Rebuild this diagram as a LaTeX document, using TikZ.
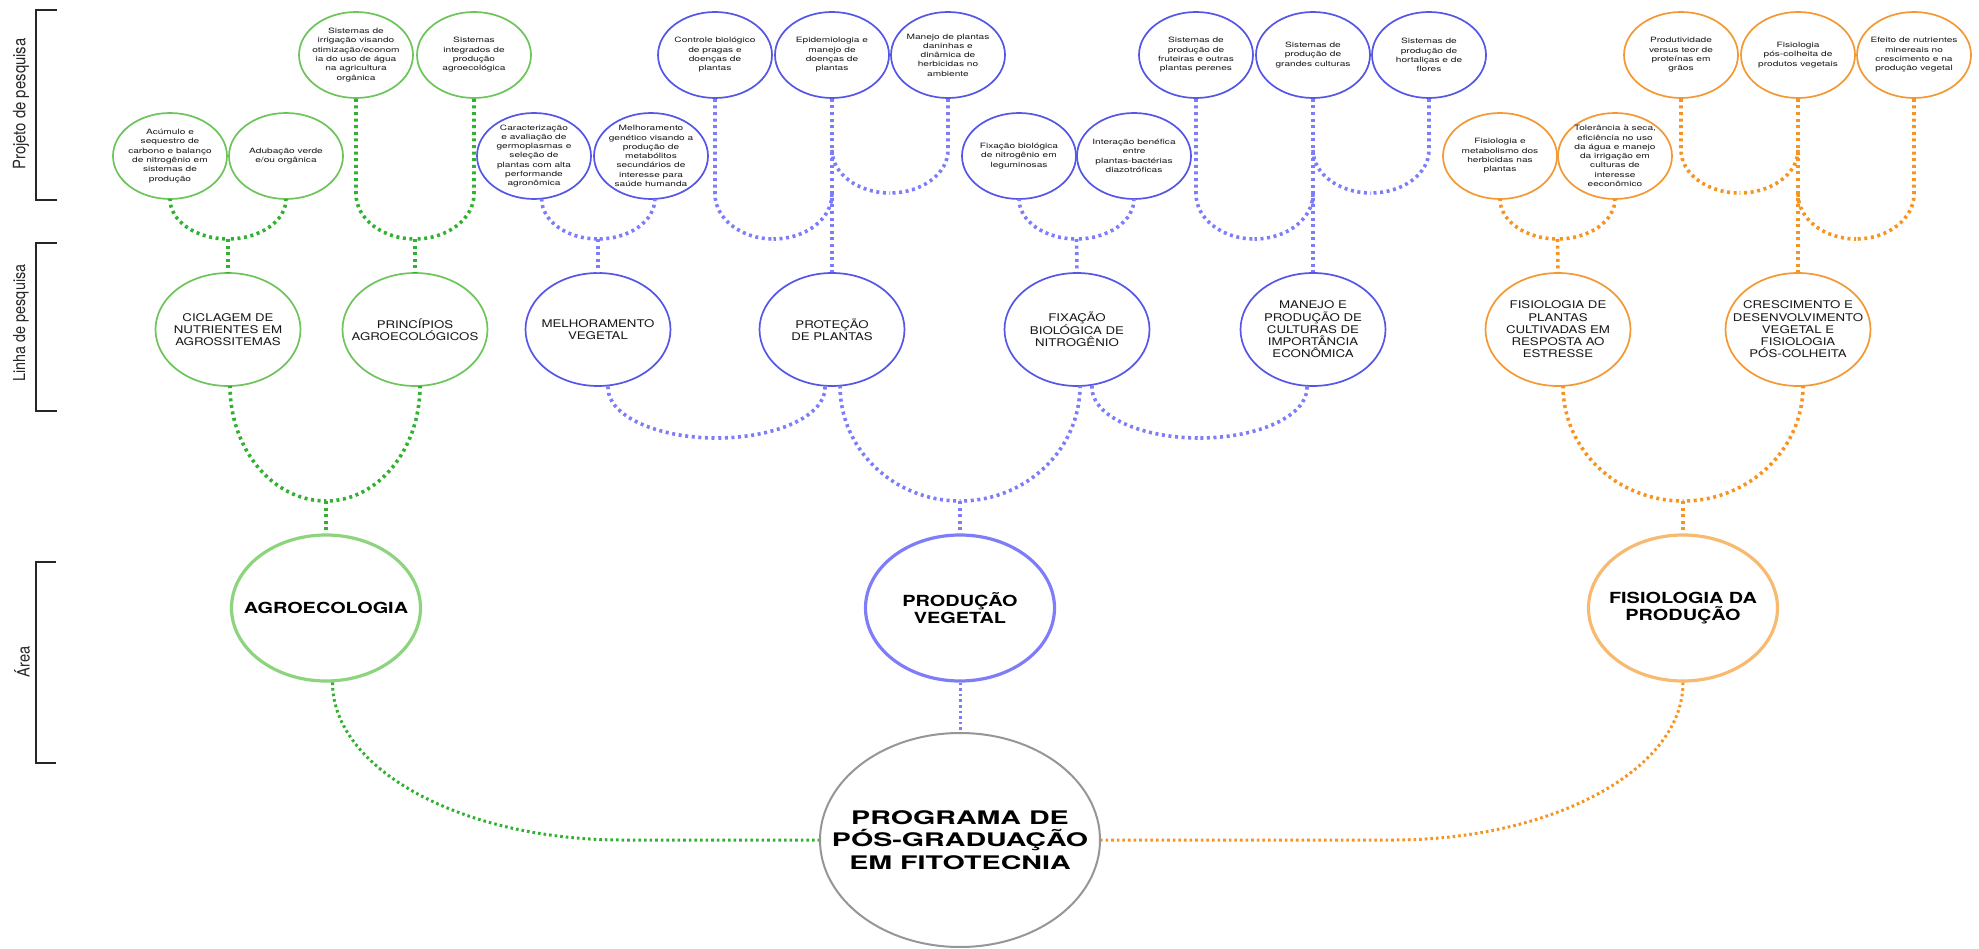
\documentclass[tikz,border=0pt]{standalone}
\usepackage{fontspec}
\usepackage{graphicx}
\setmainfont{TeX Gyre Heros}
\newfontfamily\fsmall[FakeStretch=1.39]{TeX Gyre Heros}
\newfontfamily\flinha[FakeStretch=1.25]{TeX Gyre Heros}
\newfontfamily\farea[FakeStretch=1.30]{TeX Gyre Heros}
\newfontfamily\fprog[FakeStretch=1.53]{TeX Gyre Heros}
\usetikzlibrary{shapes.geometric,calc}

\definecolor{cGc}{RGB}{108,196,90}
\definecolor{cBc}{RGB}{85,85,232}
\definecolor{cOc}{RGB}{244,152,52}
\definecolor{cGd}{RGB}{48,178,48}
\definecolor{cBd}{RGB}{125,125,252}
\definecolor{cOd}{RGB}{247,148,32}
\definecolor{cGa}{RGB}{140,212,125}
\definecolor{cBa}{RGB}{125,125,250}
\definecolor{cOa}{RGB}{248,186,112}
\definecolor{cPr}{RGB}{150,150,150}

\newcommand\bub[5]{\node[#1] (#2) at (#3) {}; \node[#4] (#2t) at (#2.center) {#5};}
\newcommand\uarm[4]{\draw[#1] let \p1=(#2), \p2=(#3) in (\p1) -- (\x1,\y2+#4) .. controls (\x1,\y2+0.448*#4) and ({\x2+0.552*(\x1-\x2)},\y2) .. (\p2);}
\newcommand\uarmm[4]{\draw[#1] let \p1=(#2), \p2=(#3) in (\x1,\y2+#4) .. controls (\x1,\y2+0.448*#4) and ({\x2+0.552*(\x1-\x2)},\y2) .. (\p2);}

\tikzset{
  bubble/.style={ellipse, inner sep=0pt, fill=white, line width=1.7pt, minimum width=114pt, minimum height=86pt},
  bG/.style={bubble, draw=cGc}, bB/.style={bubble, draw=cBc}, bO/.style={bubble, draw=cOc},
  lcirc/.style={ellipse, inner sep=0pt, fill=white, line width=1.7pt, minimum width=145pt, minimum height=113pt},
  lG/.style={lcirc, draw=cGc}, lB/.style={lcirc, draw=cBc}, lO/.style={lcirc, draw=cOc},
  acirc/.style={ellipse, inner sep=0pt, fill=white, line width=3.2pt, minimum width=189pt, minimum height=146pt},
  aG/.style={acirc, draw=cGa}, aB/.style={acirc, draw=cBa}, aO/.style={acirc, draw=cOa},
  pcirc/.style={ellipse, inner sep=0pt, fill=white, line width=2pt, draw=cPr, minimum width=280pt, minimum height=214pt},
  tS/.style={font=\fsmall\fontsize{7.3}{9.3}\selectfont, align=center, text=black!90, inner sep=0pt},
  tL/.style={font=\flinha\fontsize{10.6}{12.2}\selectfont, align=center, text=black!90, inner sep=0pt},
  tA/.style={font=\farea\bfseries\fontsize{15.3}{17.8}\selectfont, align=center, inner sep=0pt},
  tP/.style={font=\fprog\bfseries\fontsize{18.7}{22.2}\selectfont, align=center, inner sep=0pt},
  side/.style={rotate=90, inner sep=0pt, text=black!85},
  brk/.style={line width=2.5pt, draw=black!85},
  dG/.style={draw=cGd, line width=3.6pt, dash pattern=on 3pt off 3.6pt},
  dB/.style={draw=cBd, line width=3.6pt, dash pattern=on 3pt off 3.6pt},
  dO/.style={draw=cOd, line width=3.6pt, dash pattern=on 3pt off 3.6pt},
  eG/.style={draw=cGd, line width=3pt, dash pattern=on 2.6pt off 3pt},
  eB/.style={draw=cBd, line width=3pt, dash pattern=on 2.6pt off 3pt},
  eO/.style={draw=cOd, line width=3pt, dash pattern=on 2.6pt off 3pt},
}

\begin{document}
\begin{tikzpicture}[x=1pt, y=-1pt]
\useasboundingbox (0,0) rectangle (1979,949);

% side brackets and labels
\draw[brk] (57,10) -- (36,10) -- (36,200) -- (57,200);
\draw[brk] (57,243) -- (36,243) -- (36,411) -- (57,411);
\draw[brk] (56,562) -- (36,562) -- (36,763) -- (56,763);
\node[side, font=\fontsize{14.9}{17}\selectfont] (labP) at (21,104) {\scalebox{1}[1.15]{Projeto de pesquisa}};
\node[side, font=\fontsize{14.4}{17}\selectfont] (labL) at (21,323) {\scalebox{1}[1.15]{Linha de pesquisa}};
\node[side, font=\fontsize{14.7}{17}\selectfont] (labA) at (22,662) {\scalebox{1}[1.15]{Área}};

% top row
\bub{bG}{Girr}{356,55}{tS}{Sistemas de\\irrigação visando\\otimização/econom\\ia do uso de água\\na agricultura\\orgânica}
\bub{bG}{Gint}{474,55}{tS}{Sistemas\\integrados de\\produção\\agroecológica}
\bub{bB}{Bctrl}{715,55}{tS}{Controle biológico\\de pragas e\\doenças de\\plantas}
\bub{bB}{Bepi}{832,55}{tS}{Epidemiologia e\\manejo de\\doenças de\\plantas}
\bub{bB}{Bman}{948,55}{tS}{Manejo de plantas\\daninhas e\\dinâmica de\\herbicidas no\\ambiente}
\bub{bB}{Bfrut}{1196,55}{tS}{Sistemas de\\produção de\\fruteiras e outras\\plantas perenes}
\bub{bB}{Bgrand}{1313,55}{tS}{Sistemas de\\produção de\\grandes culturas}
\bub{bB}{Bhort}{1429,55}{tS}{Sistemas de\\produção de\\hortaliças e de\\flores}
\bub{bO}{Oprod}{1681,55}{tS}{Produtividade\\versus teor de\\proteínas em\\grãos}
\bub{bO}{Opos}{1798,55}{tS}{Fisiologia\\pós-colheita de\\produtos vegetais}
\bub{bO}{Oefe}{1914,55}{tS}{Efeito de nutrientes\\minereais no\\crescimento e na\\produção vegetal}

% second row
\bub{bG}{Gacu}{170,156}{tS}{Acúmulo e\\sequestro de\\carbono e balanço\\de nitrogênio em\\sistemas de\\produção}
\bub{bG}{Gadu}{286,156}{tS}{Adubação verde\\e/ou orgânica}
\bub{bB}{Bcar}{534,156}{tS}{Caracterização\\e avaliação de\\germoplasmas e\\seleção de\\plantas com alta\\performande\\agronômica}
\bub{bB}{Bmel}{651,156}{tS}{Melhoramento\\genético visando a\\produção de\\metabólitos\\secundários de\\interesse para\\saúde humanda}
\bub{bB}{Bfix}{1019,156}{tS}{Fixação biológica\\de nitrogênio em\\leguminosas}
\bub{bB}{Bint}{1134,156}{tS}{Interação benéfica\\entre\\plantas-bactérias\\diazotróficas}
\bub{bO}{Ofis}{1500,156}{tS}{Fisiologia e\\metabolismo dos\\herbicidas nas\\plantas}
\bub{bO}{Otol}{1615,156}{tS}{Tolerância à seca,\\eficiência no uso\\da água e manejo\\da irrigação em\\culturas de\\interesse\\eeconômico}

% linha de pesquisa
\bub{lG}{Lcic}{228,329.5}{tL}{CICLAGEM DE\\NUTRIENTES EM\\AGROSSITEMAS}
\bub{lG}{Lpri}{415,329.5}{tL}{PRINCÍPIOS\\AGROECOLÓGICOS}
\bub{lB}{Lmel}{598,329.5}{tL}{MELHORAMENTO\\VEGETAL}
\bub{lB}{Lpro}{832,329.5}{tL}{PROTEÇÃO\\DE PLANTAS}
\bub{lB}{Lfix}{1077,329.5}{tL}{FIXAÇÃO\\BIOLÓGICA DE\\NITROGÊNIO}
\bub{lB}{Lman}{1313,329.5}{tL}{MANEJO E\\PRODUÇÃO DE\\CULTURAS DE\\IMPORTÂNCIA\\ECONÔMICA}
\bub{lO}{Lfis}{1558,329.5}{tL}{FISIOLOGIA DE\\PLANTAS\\CULTIVADAS EM\\RESPOSTA AO\\ESTRESSE}
\bub{lO}{Lcre}{1798,329.5}{tL}{CRESCIMENTO E\\DESENVOLVIMENTO\\VEGETAL E\\FISIOLOGIA\\PÓS-COLHEITA}

% areas
\bub{aG}{Aagro}{326,608}{tA}{AGROECOLOGIA}
\bub{aB}{Aprod}{960,608}{tA}{PRODUÇÃO\\VEGETAL}
\bub{aO}{Afis}{1683,608}{tA}{FISIOLOGIA DA\\PRODUÇÃO}
\bub{pcirc}{Prog}{960,840}{tP}{PROGRAMA DE\\PÓS-GRADUAÇÃO\\EM FITOTECNIA}

% ---- green connectors
\coordinate (jG1) at (228,239);
\uarm{dG}{Gacu.south}{jG1}{40pt}
\uarm{dG}{Gadu.south}{jG1}{40pt}
\draw[dG] (jG1) -- (Lcic.north);
\coordinate (jG2) at (415,239);
\uarm{dG}{Girr.south}{jG2}{45pt}
\uarm{dG}{Gint.south}{jG2}{45pt}
\draw[dG] (jG2) -- (Lpri.north);
\coordinate (jG3) at (326,501);
\uarm{dG}{Lcic.-88}{jG3}{115pt}
\uarm{dG}{Lpri.-85}{jG3}{115pt}
\draw[dG] (jG3) -- (Aagro.north);

% ---- blue connectors
\coordinate (jB1) at (598,239);
\uarm{dB}{Bcar.-80}{jB1}{40pt}
\uarm{dB}{Bmel.-85}{jB1}{40pt}
\draw[dB] (jB1) -- (Lmel.north);
\draw[dB] (Bepi.south) -- (Lpro.north);
\coordinate (jB2) at (773.5,239);
\uarm{dB}{Bctrl.south}{jB2}{45pt}
\uarmm{dB}{Bepi.south}{jB2}{45pt}
\coordinate (jB3) at (890,193);
\uarmm{dB}{Bepi.south}{jB3}{43pt}
\uarm{dB}{Bman.south}{jB3}{43pt}
\coordinate (jB4) at (1076.5,239);
\uarm{dB}{Bfix.south}{jB4}{40pt}
\uarm{dB}{Bint.south}{jB4}{40pt}
\draw[dB] (jB4) -- (Lfix.north);
\draw[dB] (Bgrand.south) -- (Lman.north);
\coordinate (jB5) at (1254.5,239);
\uarm{dB}{Bfrut.south}{jB5}{45pt}
\uarmm{dB}{Bgrand.south}{jB5}{45pt}
\coordinate (jB6) at (1371,193);
\uarmm{dB}{Bgrand.south}{jB6}{43pt}
\uarm{dB}{Bhort.south}{jB6}{43pt}
\coordinate (jB7) at (716.5,438);
\uarm{dB}{Lmel.-80}{jB7}{50pt}
\uarm{dB}{Lpro.-97}{jB7}{50pt}
\coordinate (jB8) at (960,501);
\uarm{dB}{Lpro.-82}{jB8}{115pt}
\uarm{dB}{Lfix.-87}{jB8}{115pt}
\draw[dB] (jB8) -- (Aprod.north);
\coordinate (jB9) at (1199.5,438);
\uarm{dB}{Lfix.-75}{jB9}{50pt}
\uarm{dB}{Lman.-96}{jB9}{50pt}
\draw[eB] (Aprod.south) -- (Prog.north);

% ---- orange connectors
\coordinate (jO1) at (1557.5,239);
\uarm{dO}{Ofis.south}{jO1}{40pt}
\uarm{dO}{Otol.south}{jO1}{40pt}
\draw[dO] (jO1) -- (Lfis.north);
\draw[dO] (Opos.south) -- (Lcre.north);
\coordinate (jO2) at (1739.5,193);
\uarm{dO}{Oprod.south}{jO2}{43pt}
\uarmm{dO}{Opos.south}{jO2}{43pt}
\coordinate (jO3) at (1856,239);
\uarmm{dO}{Opos.south}{jO3}{45pt}
\uarm{dO}{Oefe.south}{jO3}{45pt}
\coordinate (jO4) at (1683,501);
\uarm{dO}{Lfis.-85}{jO4}{115pt}
\uarm{dO}{Lcre.-85}{jO4}{115pt}
\draw[dO] (jO4) -- (Afis.north);

% ---- areas to programme
\draw[eG] let \p1=(Aagro.-85), \p2=(Prog.west) in (\p1) .. controls (\x1,{\y1+0.552*(\y2-\y1)}) and ({\x1+130pt},\y2) .. (\x1+290pt,\y2) -- (\p2);
\draw[eO] let \p1=(Afis.south), \p2=(Prog.east) in (\p1) .. controls (\x1,{\y1+0.552*(\y2-\y1)}) and ({\x1-130pt},\y2) .. (\x1-290pt,\y2) -- (\p2);
\end{tikzpicture}
\end{document}
